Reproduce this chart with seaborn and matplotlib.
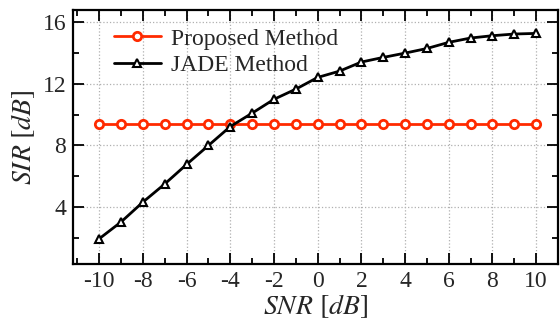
import matplotlib
matplotlib.use("Agg")
import matplotlib.pyplot as plt
import seaborn as sns
import pandas as pd
import numpy as np
from matplotlib.ticker import MultipleLocator

snr = [-10, -9, -8, -7, -6, -5, -4, -3, -2, -1, 0, 1, 2, 3, 4, 5, 6, 7, 8, 9, 10]
proposed = [9.37] * 21
jade = [1.94, 3.03, 4.32, 5.5, 6.77, 8.0, 9.23, 10.1, 11.0, 11.66, 12.42, 12.83,
        13.42, 13.72, 14.0, 14.3, 14.7, 14.98, 15.13, 15.24, 15.28]
labels = ["Proposed Method", "JADE Method"]

sns.set_theme(style="white")
plt.rcParams["font.family"] = ["Liberation Serif", "DejaVu Serif"]
plt.rcParams["mathtext.fontset"] = "stix"
plt.rcParams["axes.unicode_minus"] = False

df = pd.DataFrame({"SNR": snr * 2, "SIR": proposed + jade,
                   "Method": [labels[0]] * len(snr) + [labels[1]] * len(snr)})

fig = plt.figure(figsize=(5.6, 3.23), dpi=100)
ax = fig.add_axes([73 / 560, 1 - 264 / 323, (558 - 73) / 560, (264 - 10) / 323])

sns.lineplot(data=df[df.Method == labels[0]], x="SNR", y="SIR", ax=ax, color="#ff2a00",
             lw=2, marker="o", markersize=6, markerfacecolor="white",
             markeredgecolor="#ff2a00", markeredgewidth=2, label=labels[0])
sns.lineplot(data=df[df.Method == labels[1]], x="SNR", y="SIR", ax=ax, color="black",
             lw=2, marker="^", markersize=6, markerfacecolor="white",
             markeredgecolor="black", markeredgewidth=1.5, label=labels[1])

ax.set_xlim(-11.2, 11.0)
ax.set_ylim(0.3, 16.8)
ax.set_xticks(range(-10, 11, 2))
ax.set_yticks([4, 8, 12, 16])
ax.xaxis.set_minor_locator(MultipleLocator(1))
ax.yaxis.set_minor_locator(MultipleLocator(2))
ax.tick_params(which="both", direction="in", bottom=True, left=True, top=True, right=True,
               labelsize=17, width=1.3, color="black")
ax.tick_params(which="major", length=8, pad=5)
ax.tick_params(which="minor", length=4)
ax.grid(True, which="major", ls=":", color="#b0b0b0", lw=0.9)
for s in ax.spines.values():
    s.set_linewidth(1.6)
    s.set_color("black")
ax.set_xlabel(r"$SNR\ [dB]$", fontsize=20, labelpad=0)
ax.set_ylabel(r"$SIR\ [dB]$", fontsize=20, labelpad=4)
ax.legend(loc="upper left", frameon=False, fontsize=17, bbox_to_anchor=(0.055, 0.985),
          handlelength=2.0, handletextpad=0.4, labelspacing=0.22, borderaxespad=0.2)

fig.savefig("out.png", dpi=100)
